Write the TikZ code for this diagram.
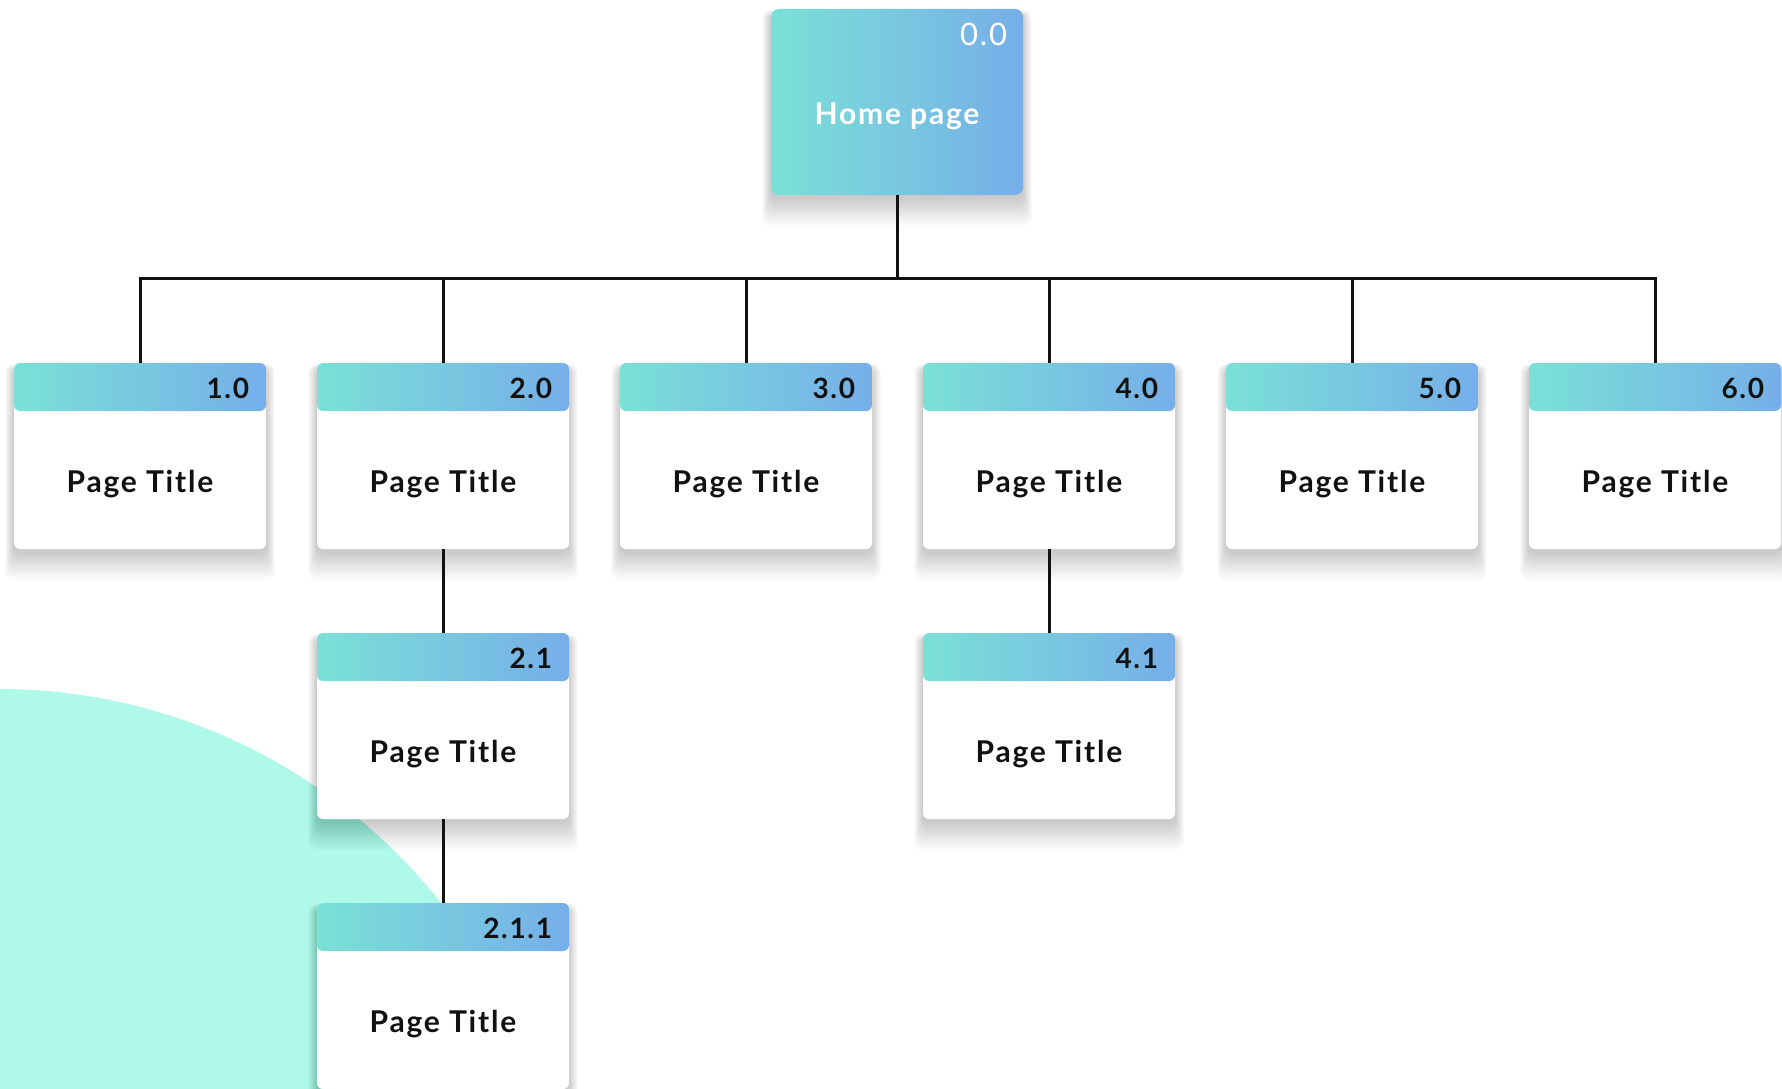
\documentclass[tikz,border=0pt]{standalone}
\usepackage{fontspec}
\setmainfont{Lato}[LetterSpace=6]
\usetikzlibrary{calc}

\definecolor{mint}{RGB}{174,249,231}
\definecolor{gradA}{RGB}{122,225,214}
\definecolor{gradB}{RGB}{118,174,233}
\definecolor{ink}{RGB}{17,17,17}

\tikzset{
  conn/.style={draw=ink, line width=3pt},
  card/.style={minimum width=252pt, minimum height=186pt, inner sep=0pt,
    rounded corners=6pt, fill=white,
    path picture={
      \shade[left color=gradA, right color=gradB]
        (path picture bounding box.north west) rectangle
        ([yshift=-48pt]path picture bounding box.north east);
    }},
  homebox/.style={minimum width=252pt, minimum height=186pt, inner sep=0pt,
    rounded corners=8pt, shading=axis, shading angle=100,
    left color=gradA, right color=gradB},
  numlbl/.style={font=\bfseries\fontsize{28}{30}\selectfont, text=ink,
    anchor=east, inner sep=0pt},
  titlelbl/.style={font=\bfseries\fontsize{30}{32}\selectfont, text=ink,
    inner sep=0pt},
}

% soft drop shadow under a box of the given centre (x,y)
\newcommand{\softshadow}[2]{%
  \foreach \k in {1,...,26}{%
    \fill[black, opacity=0.0065, rounded corners=8pt]
      ({#1-126-\k*0.35},{#2-93-\k*0.15+5}) rectangle ({#1+126+\k*0.35},{#2+93+\k*1.1+3});
  }}

\begin{document}
\begin{tikzpicture}[x=1pt, y=-1pt]
\useasboundingbox (0,0) rectangle (1782,1089);
\fill[white] (0,0) rectangle (1782,1089);

% mint disc in the lower left corner
\begin{scope}
  \clip (0,0) rectangle (1782,1089);
  \fill[mint] (-2,1255) circle[radius=566];
\end{scope}

% shadows
\softshadow{897}{102}
\foreach \cx in {140,443,746,1049,1352,1655}{\softshadow{\cx}{456}}
\softshadow{443}{726}
\softshadow{1049}{726}
\softshadow{443}{996}

% home page box
\node[homebox] (home) at (897,102) {};
\node[anchor=east, inner sep=0pt, text=white, font=\fontsize{31}{33}\selectfont]
  (homenum) at ([xshift=-16pt, yshift=-26pt]home.north east) {0.0};
\node[inner sep=0pt, text=white, font=\bfseries\fontsize{30}{32}\selectfont]
  (hometitle) at ([yshift=-108pt]home.north) {Home page};

% first level cards
\foreach \name/\cx/\num in {c1/140/1.0, c2/443/2.0, c3/746/3.0, c4/1049/4.0, c5/1352/5.0, c6/1655/6.0}{
  \node[card] (\name) at (\cx,456) {};
  \node[numlbl] (\name num) at ([xshift=-17pt, yshift=-26pt]\name.north east) {\num};
  \node[titlelbl] (\name title) at ([yshift=-121pt]\name.north) {Page Title};
}

% deeper cards
\foreach \name/\cx/\cy/\num in {c21/443/726/2.1, c41/1049/726/4.1, c211/443/996/2.1.1}{
  \node[card] (\name) at (\cx,\cy) {};
  \node[numlbl] (\name num) at ([xshift=-17pt, yshift=-26pt]\name.north east) {\num};
  \node[titlelbl] (\name title) at ([yshift=-121pt]\name.north) {Page Title};
}

% connectors
\draw[conn] (home.south) -- ++(0,83) coordinate (hub);
\draw[conn] (c1.north) |- (hub) -| (c6.north);
\foreach \name in {c2,c3,c4,c5}{
  \draw[conn] (\name.north) -- (\name.north |- hub);
}
\draw[conn] (c2.south) -- (c21.north);
\draw[conn] (c21.south) -- (c211.north);
\draw[conn] (c4.south) -- (c41.north);
\end{tikzpicture}
\end{document}
